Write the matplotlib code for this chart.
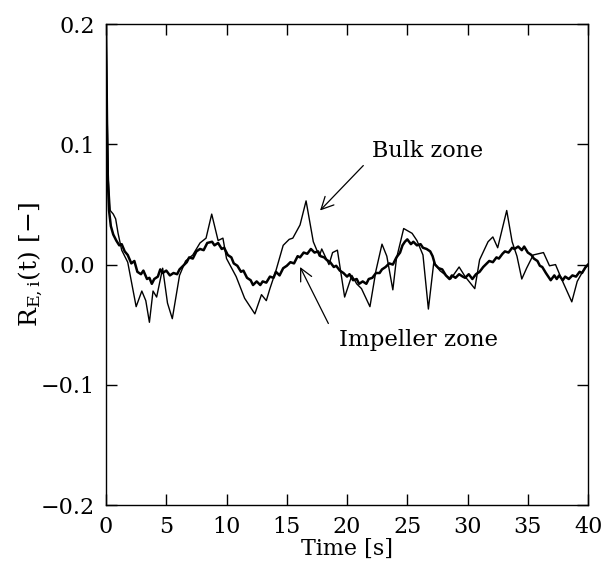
import matplotlib
matplotlib.use("Agg")
import matplotlib.pyplot as plt

# bulk zone (thin line)
bulk_t = [0, 0.1, 0.2, 0.35, 0.6, 0.8, 1.0, 1.3, 1.8, 2.5,
          2.97, 3.3, 3.6, 3.9, 4.2, 4.7, 5.1, 5.5, 6.1, 6.6,
          7.2, 7.8, 8.3, 8.77, 9.3, 9.7, 10.0, 10.8, 11.5, 12.35,
          12.9, 13.3, 13.6, 14.1, 14.7, 15.2, 15.5, 16.1, 16.6, 17.2,
          17.7, 17.9, 18.5, 18.8, 19.2, 19.8, 20.4, 20.8, 21.2, 21.9,
          22.4, 22.9, 23.3, 23.8, 24.1, 24.7, 25.4, 25.8, 26.3, 26.75,
          27.2, 27.7, 28.6, 29.3, 29.8, 30.6, 31.0, 31.7, 32.1, 32.5,
          33.25, 33.7, 34.1, 34.5, 34.9, 35.45, 36.3, 36.8, 37.3, 37.8,
          38.65, 39.1, 39.6, 40.0]
bulk_r = [0.2, 0.12, 0.07, 0.045, 0.042, 0.038, 0.026, 0.012, 0.002, -0.035,
          -0.022, -0.03, -0.048, -0.022, -0.027, -0.003, -0.032, -0.045, -0.009, 0.003,
          0.008, 0.018, 0.022, 0.042, 0.02, 0.022, 0.005, -0.01, -0.028, -0.041,
          -0.025, -0.03, -0.02, -0.005, 0.016, 0.021, 0.022, 0.033, 0.053, 0.019,
          0.007, 0.013, 0.0, 0.010, 0.012, -0.027, -0.009, -0.016, -0.02, -0.035,
          -0.005, 0.017, 0.007, -0.021, 0.005, 0.030, 0.026, 0.020, 0.008, -0.037,
          0.002, -0.005, -0.012, -0.002, -0.010, -0.020, 0.004, 0.019, 0.023, 0.014,
          0.045, 0.019, 0.007, -0.012, -0.003, 0.008, 0.010, -0.001, 0.0, -0.012,
          -0.031, -0.014, -0.005, 0.0]

# impeller zone (thick, noisy line)
imp_t = [0, 0.08, 0.15, 0.25, 0.4, 0.6, 0.85, 1.1, 1.3, 1.55,
         1.8, 2.1, 2.35, 2.6, 2.9, 3.1, 3.4, 3.6, 3.8, 4.0,
         4.3, 4.5, 4.7, 5.0, 5.3, 5.6, 5.9, 6.1, 6.4, 6.7,
         6.9, 7.2, 7.5, 7.8, 8.1, 8.4, 8.8, 9.0, 9.3, 9.6,
         9.8, 10.1, 10.4, 10.6, 10.9, 11.2, 11.4, 11.7, 12.0, 12.2,
         12.5, 12.8, 13.0, 13.3, 13.6, 13.9, 14.1, 14.4, 14.7, 15.0,
         15.3, 15.6, 15.9, 16.1, 16.4, 16.7, 17.0, 17.3, 17.6, 17.8,
         18.1, 18.3, 18.6, 18.9, 19.1, 19.4, 19.7, 20.0, 20.2, 20.5,
         20.8, 21.0, 21.3, 21.6, 21.8, 22.1, 22.4, 22.7, 22.9, 23.2,
         23.5, 23.8, 24.1, 24.4, 24.6, 24.8, 25.0, 25.3, 25.5, 25.8,
         26.1, 26.3, 26.6, 26.9, 27.1, 27.3, 27.6, 27.9, 28.2, 28.5,
         28.7, 29.0, 29.3, 29.6, 29.8, 30.1, 30.4, 30.7, 31.0, 31.3,
         31.5, 31.8, 32.1, 32.4, 32.6, 32.9, 33.1, 33.4, 33.7, 33.9,
         34.2, 34.5, 34.7, 35.0, 35.3, 35.5, 35.8, 36.0, 36.2, 36.5,
         36.7, 36.9, 37.2, 37.4, 37.6, 37.9, 38.1, 38.4, 38.7, 39.0,
         39.3, 39.5, 39.8, 40.0]
imp_r = [0.2, 0.12, 0.07, 0.045, 0.032, 0.025, 0.020, 0.016, 0.017, 0.011,
         0.008, 0.001, 0.003, -0.006, -0.008, -0.005, -0.012, -0.011, -0.016, -0.012,
         -0.010, -0.004, -0.007, -0.005, -0.009, -0.007, -0.008, -0.004, -0.001, 0.002,
         0.006, 0.005, 0.011, 0.013, 0.012, 0.018, 0.019, 0.016, 0.018, 0.013,
         0.014, 0.008, 0.006, 0.001, -0.001, -0.006, -0.005, -0.011, -0.013, -0.017,
         -0.014, -0.017, -0.014, -0.015, -0.010, -0.011, -0.006, -0.009, -0.003, -0.001,
         0.002, 0.001, 0.007, 0.006, 0.010, 0.009, 0.013, 0.010, 0.011, 0.007,
         0.006, 0.004, 0.002, -0.002, -0.001, -0.005, -0.007, -0.010, -0.008, -0.013,
         -0.012, -0.016, -0.014, -0.016, -0.012, -0.011, -0.007, -0.007, -0.004, -0.002,
         0.001, 0.000, 0.006, 0.010, 0.016, 0.019, 0.021, 0.017, 0.019, 0.016,
         0.017, 0.014, 0.013, 0.011, 0.007, 0.000, -0.003, -0.004, -0.009, -0.012,
         -0.009, -0.011, -0.008, -0.010, -0.011, -0.008, -0.012, -0.008, -0.006, -0.002,
         0.000, 0.003, 0.002, 0.006, 0.005, 0.009, 0.011, 0.010, 0.014, 0.013,
         0.015, 0.012, 0.015, 0.010, 0.008, 0.005, 0.003, -0.001, -0.002, -0.007,
         -0.010, -0.013, -0.009, -0.012, -0.009, -0.013, -0.010, -0.012, -0.009, -0.010,
         -0.006, -0.007, -0.002, 0.000]

x_ticks = [0, 5, 10, 15, 20, 25, 30, 35, 40]
y_ticks = [-0.2, -0.1, 0.0, 0.1, 0.2]

plt.rcParams['font.family'] = ['DejaVu Serif']
plt.rcParams['mathtext.fontset'] = 'dejavuserif'

fig = plt.figure(figsize=(6.15, 5.62), dpi=100)
ax = fig.add_axes([0.1724, 0.1014, 0.7838, 0.8556])

ax.plot(bulk_t, bulk_r, color='black', lw=1.0)
ax.plot(imp_t, imp_r, color='black', lw=1.8)

ax.set_xlim(0, 40)
ax.set_ylim(-0.2, 0.2)
ax.set_xticks(x_ticks)
ax.set_yticks(y_ticks)
ax.set_yticklabels(['\u22120.2', '\u22120.1', '0.0', '0.1', '0.2'])
ax.tick_params(direction='in', length=8, width=1, top=True, right=True,
               labelsize=16, pad=8)
for s in ax.spines.values():
    s.set_linewidth(1.0)

ax.set_xlabel('Time [s]', fontsize=16, labelpad=0)
ax.set_ylabel(r'$\mathrm{R_{E,i}(t)}$ [$-$]', fontsize=18, labelpad=-3)

# annotations
arrow = dict(arrowstyle='->', color='black', lw=0.9,
             shrinkA=0, shrinkB=0, mutation_scale=22)
ax.text(22.1, 0.0946, 'Bulk zone', fontsize=16, ha='left', va='center')
ax.annotate('', xy=(17.76, 0.045), xytext=(21.35, 0.0824), arrowprops=arrow)
ax.text(19.3, -0.063, 'Impeller zone', fontsize=16.5, ha='left', va='center')
ax.annotate('', xy=(16.1, -0.002), xytext=(18.45, -0.049), arrowprops=arrow)

fig.savefig('out.png', dpi=100)
